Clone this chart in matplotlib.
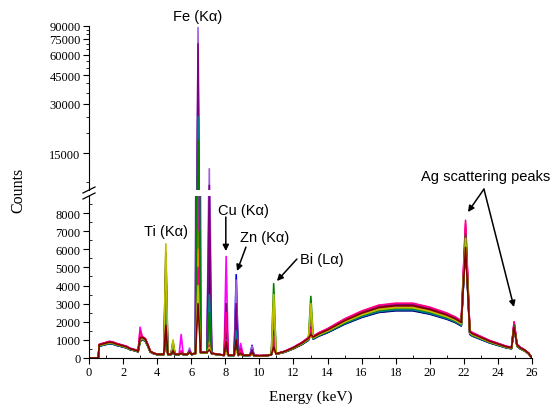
import matplotlib.pyplot as plt
from matplotlib.lines import Line2D
from matplotlib.ticker import NullFormatter, FixedLocator

W, H = 554, 410

# shared spectrum shape (keV, counts)
energy_kev = [0.0, 0.55, 0.6, 0.8, 1.0, 1.2, 1.4, 1.6, 1.8, 2.0, 2.2, 2.4, 2.6, 2.8, 2.88,
              3.0, 3.12, 3.3, 3.45, 3.6, 3.8, 4.0, 4.2, 4.39, 4.51, 4.63, 4.81, 4.93, 5.05,
              5.29, 5.41, 5.53, 5.78, 5.9, 6.02, 6.25, 6.4, 6.55, 6.92, 7.06, 7.2, 7.5,
              7.93, 8.05, 8.17, 8.52, 8.64, 8.76, 8.9, 9.05, 9.45, 9.57, 9.69, 10.0, 10.4,
              10.7, 10.84, 10.98, 11.5, 12.0, 12.5, 12.88, 13.02, 13.16, 13.5, 14.0, 15.0,
              16.0, 17.0, 18.0, 19.0, 20.0, 21.0, 21.5, 21.85, 22.1, 22.35, 22.5, 23.0,
              23.5, 24.0, 24.5, 24.8, 24.95, 25.12, 25.3, 25.6, 25.8, 26.0]
background_counts = [0, 0, 700, 750, 800, 850, 820, 750, 700, 650, 600, 500, 450, 400, 350,
                     400, 1100, 1000, 700, 350, 250, 200, 200, 200, 200, 200, 200, 200, 200,
                     200, 200, 200, 200, 250, 200, 250, 280, 300, 300, 300, 250, 200,
                     150, 150, 150, 150, 150, 150, 150, 150, 150, 150, 130, 120, 130,
                     180, 200, 220, 350, 550, 800, 1050, 1100, 1120, 1300, 1500, 2000,
                     2400, 2700, 2800, 2800, 2600, 2300, 2100, 1900, 1800, 1400, 1300, 1100,
                     900, 750, 600, 550, 550, 700, 550, 400, 250, 0]

# samples: black, red, blue, magenta, olive, navy, violet, purple, dark cyan,
#          orange, pink, green, dark yellow, wine
sample_colors = ['#000000', '#FF0000', '#0000FF', '#FF00FF', '#808000', '#000080', '#A060E0',
                 '#800080', '#008080', '#FF8000', '#FF0080', '#008000', '#C0C000', '#800000']
continuum_level = [1.0, 1.05, 0.94, 1.07, 0.96, 0.93, 1.02, 1.05, 0.95, 1.0, 1.08, 0.98, 0.99, 1.03]

peak_kev = [3.0, 4.51, 4.93, 5.41, 5.9, 6.4, 7.06, 8.05, 8.64, 8.9, 9.57, 10.84, 13.02, 22.1, 24.95]
peak_counts = [
    [1100, 1200, 1000, 1700, 1000, 900, 1000, 1100, 900, 1000, 1500, 900, 1000, 1100],
    [5800, 2500, 4000, 900, 1500, 5000, 600, 700, 3500, 800, 1200, 1000, 6300, 1800],
    [900, 450, 700, 300, 350, 800, 250, 250, 600, 300, 350, 300, 1000, 400],
    [250, 250, 250, 1300, 250, 250, 250, 250, 250, 250, 400, 250, 250, 250],
    [350, 300, 400, 300, 300, 350, 550, 400, 300, 300, 300, 300, 300, 300],
    [14000, 8000, 51000, 12000, 7000, 40000, 88000, 70000, 25000, 6000, 5000, 18000, 4000, 3000],
    [2000, 1100, 7000, 1700, 1000, 5500, 12000, 9500, 3500, 850, 700, 2500, 600, 450],
    [1500, 600, 800, 5600, 400, 700, 1000, 3000, 500, 400, 2500, 350, 300, 900],
    [2000, 800, 4600, 1200, 600, 3500, 4300, 3000, 1500, 500, 900, 700, 400, 1000],
    [350, 250, 300, 800, 200, 300, 400, 500, 250, 200, 450, 200, 200, 250],
    [350, 250, 700, 300, 200, 550, 650, 450, 300, 200, 250, 250, 200, 300],
    [900, 600, 2200, 1800, 3000, 700, 1000, 1500, 800, 500, 1200, 4100, 3500, 600],
    [1500, 1300, 2100, 1900, 2600, 1300, 1500, 1700, 1400, 1200, 1600, 3400, 3000, 1300],
    [6500, 7200, 6300, 7400, 7000, 6200, 6600, 6900, 6400, 6700, 7600, 6800, 6600, 6100],
    [1800, 1900, 1700, 2000, 1800, 1700, 1800, 1900, 1700, 1800, 2000, 1800, 1700, 1700],
]

upper_ticks = [15000, 30000, 45000, 60000, 75000, 90000]
upper_minor = [10000, 20000, 25000, 35000, 40000, 50000, 55000, 65000, 70000, 80000, 85000]
lower_ticks = [0, 1000, 2000, 3000, 4000, 5000, 6000, 7000, 8000]
x_ticks = list(range(0, 27, 2))


def build_series(i):
    counts = [b * continuum_level[i] for b in background_counts]
    for j, e in enumerate(peak_kev):
        k = energy_kev.index(e)
        counts[k] = max(counts[k], peak_counts[j][i])
    return counts


def px(x, y):
    return x / W, 1 - y / H


plt.rcParams['font.family'] = ['Liberation Serif', 'DejaVu Serif']
fig = plt.figure(figsize=(W / 100, H / 100), dpi=100)

left, right = 89, 532
ax_top = fig.add_axes([left / W, 1 - 191 / H, (right - left) / W, (191 - 27) / H])
ax_low = fig.add_axes([left / W, 1 - 359 / H, (right - left) / W, (359 - 197) / H])

for i, c in enumerate(sample_colors):
    s = build_series(i)
    ax_top.plot(energy_kev, s, color=c, lw=1.2)
    ax_low.plot(energy_kev, s, color=c, lw=1.2)

for ax in (ax_top, ax_low):
    ax.set_xlim(0, 26)
    ax.spines['top'].set_visible(False)
    ax.spines['right'].set_visible(False)

ax_top.set_yscale('log')
ax_top.set_ylim(8900, 90000)
ax_top.spines['bottom'].set_visible(False)
ax_top.set_xticks([])
ax_top.yaxis.set_major_locator(FixedLocator(upper_ticks))
ax_top.yaxis.set_minor_locator(FixedLocator(upper_minor))
ax_top.set_yticklabels([str(t) for t in upper_ticks])
ax_top.yaxis.set_minor_formatter(NullFormatter())
ax_top.tick_params(axis='y', which='major', direction='out', length=4, labelsize=9, pad=2)
ax_top.tick_params(axis='y', which='minor', direction='out', length=2.5)

ax_low.set_ylim(0, 8940)
ax_low.set_yticks(lower_ticks)
ax_low.set_yticks([500 + t for t in lower_ticks], minor=True)
ax_low.set_xticks(x_ticks)
ax_low.set_xticks(range(1, 26, 2), minor=True)
ax_low.tick_params(axis='both', which='major', direction='out', length=4, labelsize=9, pad=2)
ax_low.tick_params(axis='both', which='minor', direction='in', length=2.5)
ax_low.set_xlabel('Energy (keV)', fontsize=11, labelpad=8)

fig.text(*px(18, 190), 'Counts', rotation=90, fontsize=11.5, ha='center', va='center')

# axis break marks
for y0 in (194, 200):
    fig.add_artist(Line2D([px(83, y0)[0], px(95, y0 - 6)[0]], [px(83, y0)[1], px(95, y0 - 6)[1]],
                          color='black', lw=0.9, transform=fig.transFigure))

lab = dict(family=['Liberation Sans', 'DejaVu Sans'], fontsize=10.5, ha='center', va='center')
arrow = dict(arrowstyle='-|>', color='black', lw=1.1, mutation_scale=9, shrinkA=0, shrinkB=0)

fig.text(*px(198, 17), 'Fe (Kα)', **lab)
ax_low.text(4.52, 7007, 'Ti (Kα)', **lab)
ax_low.text(9.04, 8165, 'Cu (Kα)', **lab)
ax_low.text(10.33, 6676, 'Zn (Kα)', **lab)
ax_low.text(13.67, 5462, 'Bi (Lα)', **lab)
ax_low.text(23.3, 10040, 'Ag scattering peaks', clip_on=False, **lab)

ax_low.annotate('', xy=(8.03, 5900), xytext=(8.03, 7780), arrowprops=arrow, annotation_clip=False)
ax_low.annotate('', xy=(8.69, 4800), xytext=(9.21, 6120), arrowprops=arrow, annotation_clip=False)
ax_low.annotate('', xy=(11.03, 4250), xytext=(12.2, 5460), arrowprops=arrow, annotation_clip=False)
ax_low.annotate('', xy=(22.24, 8055), xytext=(23.18, 9320), arrowprops=arrow, annotation_clip=False)
ax_low.annotate('', xy=(24.94, 2810), xytext=(23.18, 9320), arrowprops=arrow, annotation_clip=False)

fig.savefig('out.png', dpi=100)
